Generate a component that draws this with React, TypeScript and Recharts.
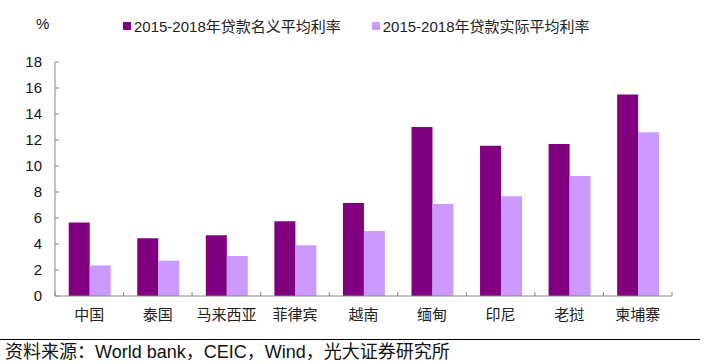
import React from 'react';
import { BarChart, Bar, XAxis, YAxis } from 'recharts';

const countries = ['中国', '泰国', '马来西亚', '菲律宾', '越南', '缅甸', '印尼', '老挝', '柬埔寨'];
const nominalRate = [5.65, 4.45, 4.67, 5.75, 7.15, 13.0, 11.55, 11.7, 15.5];
const realRate = [2.35, 2.72, 3.08, 3.9, 5.0, 7.08, 7.67, 9.23, 12.6];
const yTicks = [0, 2, 4, 6, 8, 10, 12, 14, 16, 18];
const seriesNames = ['2015-2018年贷款名义平均利率', '2015-2018年贷款实际平均利率'];
const colors = ['#800080', '#CC99FF'];

const FONT = '"Liberation Sans", Arial, "Noto Sans CJK SC", sans-serif';
const AXIS = '#868686';
const PLOT_W = 617;
const BAND = PLOT_W / countries.length;

const data = countries.map((c, i) => ({ name: c, nominal: nominalRate[i], real: realRate[i] }));

function XTick({ x, y, payload, index }: any) {
  const left = x - BAND / 2;
  return (
    <g>
      <line x1={left} x2={left} y1={y} y2={y - 4} stroke={AXIS} />
      {index === countries.length - 1 && (
        <line x1={x + BAND / 2} x2={x + BAND / 2} y1={y} y2={y - 4} stroke={AXIS} />
      )}
      <text x={x} y={y + 24} textAnchor="middle" fontSize={15} fill="#222" fontFamily={FONT}>
        {payload.value}
      </text>
    </g>
  );
}

function YTick({ x, y, payload }: any) {
  return (
    <g>
      <line x1={x} x2={x + 4} y1={y} y2={y} stroke={AXIS} />
      <text x={x - 13} y={y} dy="0.36em" textAnchor="end" fontSize={15} fill="#111" fontFamily={FONT}>
        {payload.value}
      </text>
    </g>
  );
}

export default function App() {
  return (
    <div style={{ position: 'absolute', left: 0, top: 0, width: 704, height: 364, background: '#fff', fontFamily: FONT, overflow: 'hidden' }}>
      <div style={{ position: 'absolute', left: 36, top: 15, fontSize: 15, color: '#111' }}>%</div>
      <div style={{ position: 'absolute', left: 123, top: 15, display: 'flex', fontSize: 15, color: '#222', whiteSpace: 'nowrap' }}>
        {seriesNames.map((n, i) => (
          <div key={n} style={{ display: 'flex', alignItems: 'center', marginRight: i === 0 ? 31 : 0 }}>
            <span style={{ width: 8, height: 8, background: colors[i], marginRight: 3, display: 'inline-block' }} />
            <span>{n}</span>
          </div>
        ))}
      </div>
      <BarChart
        width={704}
        height={336}
        data={data}
        margin={{ top: 62, right: 32, left: 0, bottom: 10 }}
        barCategoryGap="20%"
        barGap={0}
      >
        <XAxis
          dataKey="name"
          interval={0}
          height={30}
          tickLine={false}
          tickSize={0}
          tickMargin={0}
          stroke={AXIS}
          tick={<XTick />}
        />
        <YAxis
          width={55}
          domain={[0, 18]}
          ticks={yTicks}
          interval={0}
          tickLine={false}
          tickSize={0}
          tickMargin={0}
          stroke={AXIS}
          tick={<YTick />}
        />
        <Bar dataKey="nominal" fill={colors[0]} isAnimationActive={false} />
        <Bar dataKey="real" fill={colors[1]} isAnimationActive={false} />
      </BarChart>
      <div style={{ position: 'absolute', left: 0, top: 339, width: 700, borderTop: '1px solid #000' }} />
      <div style={{ position: 'absolute', left: 5, top: 342, fontSize: 18, lineHeight: '20px', color: '#111', whiteSpace: 'nowrap' }}>
        资料来源：World bank，CEIC，Wind，光大证券研究所
      </div>
    </div>
  );
}
